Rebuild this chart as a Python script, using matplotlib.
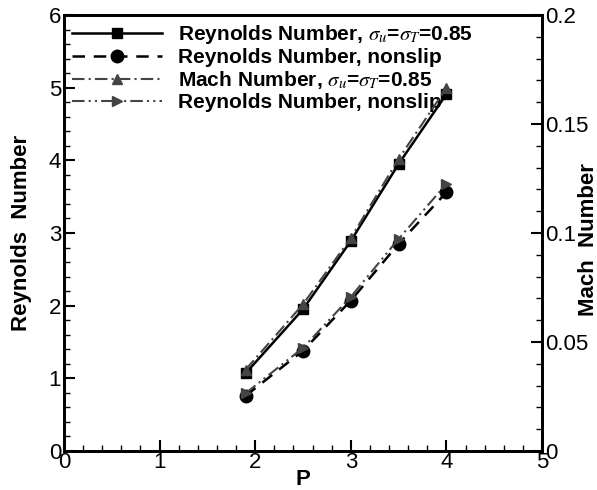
import numpy as np
import matplotlib
matplotlib.use('Agg')
import matplotlib.pyplot as plt
from matplotlib.ticker import MultipleLocator

plt.rcParams['font.family'] = ['Liberation Sans', 'DejaVu Sans']
plt.rcParams['mathtext.fontset'] = 'stix'

# data
p = [1.9, 2.5, 3.0, 3.5, 4.0]
re_slip = [1.07, 1.95, 2.89, 3.95, 4.91]
re_nonslip = [0.76, 1.38, 2.07, 2.85, 3.56]
mach_slip = [0.0373, 0.0673, 0.0977, 0.134, 0.1665]
mach_nonslip = [0.0265, 0.0473, 0.0707, 0.0973, 0.1225]

labels = [r'Reynolds Number, $\sigma_u$=$\sigma_T$=0.85',
          'Reynolds Number, nonslip',
          r'Mach Number, $\sigma_u$=$\sigma_T$=0.85',
          'Reynolds Number, nonslip']

fig = plt.figure(figsize=(5.97, 4.90), dpi=100)
ax = fig.add_axes([64/597, 1 - 451/490, 478/597, 436/490])
ax2 = ax.twinx()

l1, = ax.plot(p, re_slip, color='black', lw=1.8, marker='s', ms=7, label=labels[0])
l2, = ax.plot(p, re_nonslip, color='black', lw=1.8, ls=(0, (5, 3.5)), marker='o', ms=9,
              label=labels[1])
l3, = ax2.plot(p, mach_slip, color='#444444', lw=1.5, ls=(0, (6, 2, 1, 2)), marker='^', ms=7,
               label=labels[2])
l4, = ax2.plot(p, mach_nonslip, color='#444444', lw=1.5, ls=(0, (6, 2, 1, 2, 1, 2)),
               marker='>', ms=7, label=labels[3])

ax.set_xlim(0, 5)
ax.set_ylim(0, 6)
ax2.set_ylim(0, 0.2)

ax.xaxis.set_major_locator(MultipleLocator(1))
ax.xaxis.set_minor_locator(MultipleLocator(0.2))
ax.yaxis.set_major_locator(MultipleLocator(1))
ax.yaxis.set_minor_locator(MultipleLocator(0.2))
ax2.yaxis.set_minor_locator(MultipleLocator(0.01))
ax2.set_yticks([0, 0.05, 0.1, 0.15, 0.2])
ax2.set_yticklabels(['0', '0.05', '0.1', '0.15', '0.2'])

for a in (ax, ax2):
    a.tick_params(which='major', direction='in', length=8, width=1.5, labelsize=16, pad=2)
    a.tick_params(which='minor', direction='in', length=4, width=1)
    for s in a.spines.values():
        s.set_linewidth(2)
ax.tick_params(axis='y', right=False)
ax.tick_params(axis='x', top=False, pad=1)

ax.set_xlabel('P', fontsize=16, fontweight='bold', labelpad=-3)
ax.set_ylabel('Reynolds  Number', fontsize=16, fontweight='bold', labelpad=12)
fig.text(588/597, 1 - 240/490, 'Mach  Number', rotation=90, fontsize=16,
         fontweight='bold', ha='center', va='center')

ax.legend(handles=[l1, l2, l3, l4], loc='upper left', frameon=False,
          prop={'weight': 'bold', 'size': 15}, handlelength=4.3, handletextpad=0.8,
          labelspacing=0.1, borderpad=0, borderaxespad=0,
          bbox_to_anchor=(8/478, 1 - 8/436))

fig.savefig('out.png', dpi=100)
